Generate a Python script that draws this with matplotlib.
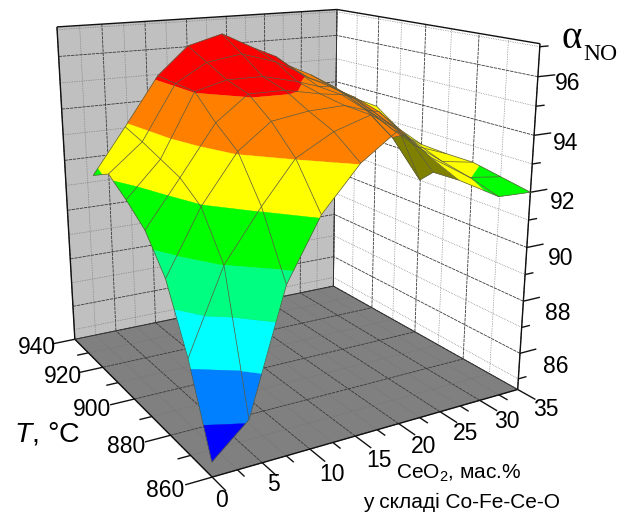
import numpy as np
import matplotlib
matplotlib.use('Agg')
import matplotlib.pyplot as plt
from matplotlib.colors import to_rgb
from mpl_toolkits.mplot3d import proj3d
from mpl_toolkits.mplot3d.art3d import Poly3DCollection, Line3DCollection

plt.rcParams['font.family'] = ['Liberation Sans', 'DejaVu Sans']
plt.rcParams['mathtext.fontset'] = 'custom'
plt.rcParams['mathtext.rm'] = 'Liberation Sans'
plt.rcParams['mathtext.it'] = 'Liberation Sans:italic'

# grid nodes of the surface
ceo2_nodes = [0, 3.7, 7.5, 11, 15, 19, 21.5, 23, 26, 31, 35]
temp_nodes = [860, 870, 880, 890, 900, 910, 920]

# alpha_NO read per temperature row
alpha_860 = [85.1, 86.2, 90.4, 92.45, 93.9, 94.8, 93.06, 93.25, 92.85, 92.04, 92.0]
alpha_870 = [87.95, 90.8, 92.5, 93.9, 94.6, 95.0, 94.15, 94.2, 93.3, 92.36, 92.2]
alpha_880 = [90.1, 92.3, 93.95, 94.8, 95.0, 95.05, 94.8, 94.7, 93.8, 92.6, 92.4]
alpha_890 = [91.3, 92.9, 94.6, 95.45, 95.45, 95.2, 95.09, 94.96, 94.2, 92.85, 92.4]
alpha_900 = [91.95, 93.2, 95.4, 95.7, 95.7, 95.4, 95.15, 95.09, 94.55, 93.2, 92.45]
alpha_910 = [92.5, 93.5, 95.45, 96.1, 96.3, 95.9, 95.5, 95.2, 94.8, 93.6, 92.8]
alpha_920 = [92.1, 93.75, 95.5, 96.5, 96.85, 96.2, 95.84, 95.46, 95.0, 94.0, 93.44]

band_levels = [84.0, 86.1, 87.65, 89.25, 90.8, 92.35, 93.86, 95.36, 98.0]
band_colors = ['#0000ff', '#0080ff', '#00ffff', '#00ff80', '#00ff00', '#ffff00', '#ff8000', '#ff0000']
under_color = '#808000'
# cells seen from below (x index, T index)
under_cells = [(5, 0), (6, 0), (7, 0)]

x_lim = (0, 35)
t_lim = (860, 940)
z_lim = (84.58, 97.1)

x_major = np.arange(0, 36, 5)
x_minor = np.arange(2.5, 35, 5)
t_major = np.arange(860, 941, 20)
t_minor = np.arange(870, 940, 20)
z_major = np.arange(86, 97, 2)
z_minor = np.arange(85, 98, 2)

fig = plt.figure(figsize=(6.24, 5.13), dpi=100)
ax = fig.add_axes([-0.012781, 0.028195, 0.912877, 1.110400], projection='3d')
ax.set_xlim(*x_lim, view_margin=0)
ax.set_ylim(*t_lim, view_margin=0)
ax.set_zlim(*z_lim, view_margin=0)
ax.view_init(elev=16.109, azim=-119.984)
ax.set_proj_type('persp', focal_length=0.3556)
ax.set_box_aspect((1, 1.0091, 1.0145))
ax.set_axis_off()
ax.computed_zorder = False


def add_lines(lines, color, lw, ls='-', zorder=2):
    ax.add_collection3d(Line3DCollection(lines, colors=color, linewidths=lw, linestyles=ls, zorder=zorder), autolim=False)


def clip_z(poly, level, above):
    # keep the part of a cell on one side of a level
    out = []
    for a, b in zip(poly, poly[1:] + poly[:1]):
        ina = (a[2] >= level) == above
        inb = (b[2] >= level) == above
        if ina:
            out.append(a)
        if ina != inb:
            f = (level - a[2]) / (b[2] - a[2])
            out.append((a[0] + f * (b[0] - a[0]), a[1] + f * (b[1] - a[1]), level))
    return out


def label_at(x, t, z, s, size=16.5):
    X, Y, _ = proj3d.proj_transform(x, t, z, ax.get_proj())
    ax.text2D(X, Y, s, transform=ax.transData, fontsize=size, ha='center', va='center', zorder=8)


z0, z1 = z_lim

# walls and floor
walls = [
    [(0, 860, z0), (35, 860, z0), (35, 940, z0), (0, 940, z0)],
    [(0, 940, z0), (35, 940, z0), (35, 940, z1), (0, 940, z1)],
    [(35, 860, z0), (35, 940, z0), (35, 940, z1), (35, 860, z1)],
]
ax.add_collection3d(Poly3DCollection(walls, facecolors=['#808080', '#c0c0c0', '#ffffff'], edgecolors='none', zorder=1), autolim=False)

# grid lines, major then minor
for xs, ts, zs, col, lw, ls in [(x_major, t_major, z_major, '#3a3a3a', 0.6, (0, (4, 1))),
                                (x_minor, t_minor, z_minor, '#707070', 0.5, (0, (1, 1.5)))]:
    lines = []
    for x in xs:
        lines.append([(x, 860, z0), (x, 940, z0)])
        lines.append([(x, 940, z0), (x, 940, z1)])
    for t in ts:
        lines.append([(0, t, z0), (35, t, z0)])
        lines.append([(35, t, z0), (35, t, z1)])
    for z in zs:
        lines.append([(0, 940, z), (35, 940, z)])
        lines.append([(35, 860, z), (35, 940, z)])
    add_lines(lines, col, lw, ls, zorder=2)

frame = [
    [(0, 860, z0), (35, 860, z0)], [(0, 860, z0), (0, 940, z0)],
    [(35, 860, z0), (35, 860, z1)], [(0, 940, z0), (0, 940, z1)],
    [(0, 940, z1), (35, 940, z1)], [(35, 940, z1), (35, 860, z1)],
]
add_lines(frame, '#111111', 1.0, zorder=3)
add_lines([[(35, 940, z0), (35, 940, z1)], [(0, 940, z0), (35, 940, z0)], [(35, 860, z0), (35, 940, z0)]], '#333333', 0.7, zorder=3)

# tick marks
ticks = []
for x in x_major:
    ticks.append([(x, 860, z0), (x, 854, z0)])
for x in x_minor:
    ticks.append([(x, 860, z0), (x, 857, z0)])
for t in t_major:
    ticks.append([(0, t, z0), (-2.6, t, z0)])
for t in t_minor:
    ticks.append([(0, t, z0), (-1.3, t, z0)])
for z in z_major:
    ticks.append([(35, 860, z), (37.2, 860, z)])
for z in z_minor:
    ticks.append([(35, 860, z), (36.1, 860, z)])
add_lines(ticks, '#111111', 1.0, zorder=3)

# surface cut into colour bands, layered so the fold at the right overlaps like the original
alpha = np.array([alpha_860, alpha_870, alpha_880, alpha_890, alpha_900, alpha_910, alpha_920])
layers = {4.0: ([], []), 4.05: ([], []), 4.1: ([], []), 4.2: ([], [])}
for j in range(len(temp_nodes) - 1):
    for i in range(len(ceo2_nodes) - 1):
        cell = [(ceo2_nodes[i], temp_nodes[j], alpha[j, i]), (ceo2_nodes[i + 1], temp_nodes[j], alpha[j, i + 1]),
                (ceo2_nodes[i + 1], temp_nodes[j + 1], alpha[j + 1, i + 1]), (ceo2_nodes[i], temp_nodes[j + 1], alpha[j + 1, i])]
        if (i, j) in under_cells:
            layer = 4.05
        elif j == 0 and i >= 8:
            layer = 4.2
        elif i >= 8:
            layer = 4.0
        else:
            layer = 4.1
        for b, c in enumerate(band_colors):
            part = clip_z(cell, band_levels[b], True)
            if part:
                part = clip_z(part, band_levels[b + 1], False)
            if len(part) >= 3:
                layers[layer][0].append(part)
                layers[layer][1].append(to_rgb(under_color if (i, j) in under_cells else c))
for zo, (polys, cols) in layers.items():
    ax.add_collection3d(Poly3DCollection(polys, facecolors=cols, edgecolors=cols, linewidths=0.25, zorder=zo), autolim=False)

mesh = []
for j, t in enumerate(temp_nodes):
    mesh.append([(ceo2_nodes[i], t, alpha[j, i]) for i in range(len(ceo2_nodes))])
for i, x in enumerate(ceo2_nodes):
    mesh.append([(x, temp_nodes[j], alpha[j, i]) for j in range(len(temp_nodes))])
add_lines(mesh, '#5a5a40', 0.5, zorder=5)

# tick labels
for x in x_major:
    label_at(x - 1.0 if x < 10 else x - 0.7, 851.5 if x < 10 else 849, z0, str(x))
for t in t_major:
    label_at(-4.5, t, z0, str(t))
for z in z_major:
    label_at(37.2 + 0.11 * (96 - z), 856, z - 0.55 + 0.035 * (z - 86), str(z))

fig.text(572 / 624, 1 - 39 / 513, '\u03b1', family='Liberation Serif', fontsize=28, ha='center', va='center')
fig.text(600 / 624, 1 - 54 / 513, 'NO', family='Liberation Serif', fontsize=17, ha='center', va='center')
fig.text(14 / 624, 1 - 434 / 513, r'$\mathit{T}$, °C', fontsize=20.5, ha='left', va='center')
fig.text(459 / 624, 1 - 473 / 513, 'CeO$_2$, мас.%', fontsize=15, ha='center', va='center')
fig.text(462 / 624, 1 - 502 / 513, 'у складі Co-Fe-Ce-O', fontsize=15, ha='center', va='center')

fig.savefig('out.png', dpi=100)
